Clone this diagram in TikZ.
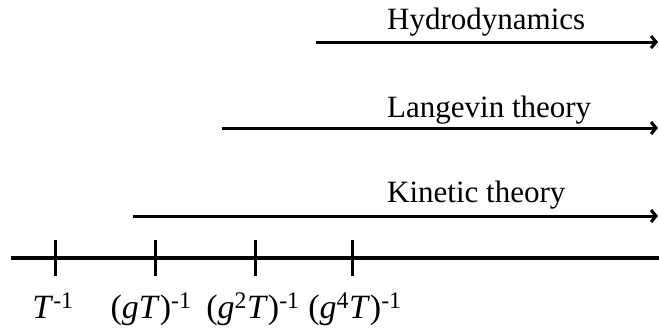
\documentclass[tikz,border=0pt]{standalone}
\usepackage{fontspec}
\setmainfont{Liberation Serif}
\usetikzlibrary{arrows.meta,positioning}

\begin{document}
\begin{tikzpicture}[x=1pt,y=-1pt,
  regime/.style={line width=3pt,-{Straight Barb[length=5pt,width=12pt]}},
  regimelab/.style={anchor=base west,inner sep=0pt,font=\fontsize{31}{36}\selectfont},
  scalelab/.style={anchor=base,inner sep=0pt,font=\fontsize{34}{40}\selectfont}]
  \useasboundingbox (0,0) rectangle (659,327);
  % time scale axis
  \coordinate (axL) at (11,258);
  \coordinate (axR) at (659,258);
  \draw[line width=4.5pt] (axL) -- (axR);
  \foreach \n/\x in {tT/55, tgT/155, tggT/255, tgggT/352} {
    \coordinate (\n top) at (\x,240);
    \coordinate (\n bot) at (\x,276);
    \draw[line width=3pt] (\n top) -- (\n bot);
  }
  \node[scalelab] (labT) at (53,318) {\textit{T}\textsuperscript{-1}};
  \node[scalelab] (labgT) at (151,318) {(\textit{gT})\textsuperscript{-1}};
  \node[scalelab] (labggT) at (253,318) {(\textit{g}\textsuperscript{2}\textit{T})\textsuperscript{-1}};
  \node[scalelab] (labgggT) at (355,318) {(\textit{g}\textsuperscript{4}\textit{T})\textsuperscript{-1}};
  % regimes of validity
  \coordinate (hydroS) at (316,42);
  \coordinate (hydroE) at (658,42);
  \coordinate (langS) at (222,128);
  \coordinate (langE) at (658,128);
  \coordinate (kinS) at (133,216);
  \coordinate (kinE) at (658,216);
  \draw[regime] (hydroS) -- (hydroE);
  \draw[regime] (langS) -- (langE);
  \draw[regime] (kinS) -- (kinE);
  \node[regimelab] (hydro) at (387,29) {Hydrodynamics};
  \node[regimelab] (lang) at (387,117) {Langevin theory};
  \node[regimelab] (kin) at (387,202) {Kinetic theory};
\end{tikzpicture}
\end{document}
